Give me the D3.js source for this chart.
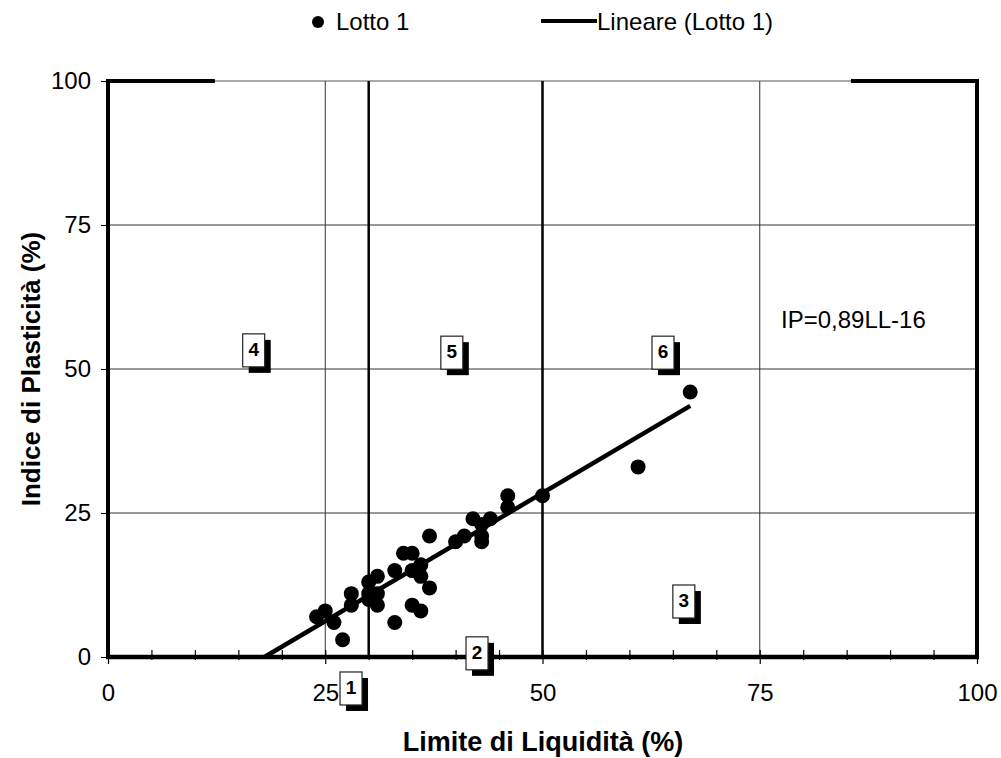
<!DOCTYPE html>
<html>
<head>
<meta charset="utf-8">
<script src="https://cdn.jsdelivr.net/npm/d3@7"></script>
<style>
  body { margin: 0; background: #fff; }
  svg { display: block; font-family: "Liberation Sans", Arial, sans-serif; }
</style>
</head>
<body>
<div id="chart"></div>
<script>
// punti Lotto 1 (LL, IP)
const LL = [24, 25, 26, 27, 28, 28, 30, 30, 30, 31, 31, 31, 33, 33, 34, 35, 35, 35, 36, 36, 36, 37, 37, 40, 41, 42, 43, 43, 43, 44, 46, 46, 50, 61, 67];
const IP = [7, 8, 6, 3, 9, 11, 13, 11, 10, 14, 11, 9, 15, 6, 18, 18, 15, 9, 16, 14, 8, 21, 12, 20, 21, 24, 23, 21, 20, 24, 28, 26, 28, 33, 46];

// retta di regressione
const trendLL = [18, 67];
const trendIP = [0, 43.6];

const xTicks = [0, 25, 50, 75, 100];
const yTicks = [0, 25, 50, 75, 100];
const gridX = [25, 75];
const gridY = [25, 50, 75];
const limitX = [30, 50];
const topBarStart = [0, 85.5];
const topBarEnd = [12.3, 100];

// riquadri numerati (angolo in alto a sinistra)
const zoneText = ['1', '2', '3', '4', '5', '6'];
const zoneLL = [26.7, 41.2, 65.0, 15.5, 38.3, 62.6];
const zoneIP = [-2.6, 3.5, 12.5, 56.1, 55.7, 55.7];

const W = 1001, H = 758;
const svg = d3.select('#chart').append('svg')
    .attr('width', W)
    .attr('height', H);

const x = d3.scaleLinear().domain([0, 100]).range([108, 977]);
const y = d3.scaleLinear().domain([0, 100]).range([657, 81]);

// griglia
svg.append('g').selectAll('line')
    .data(gridY)
    .enter().append('line')
    .attr('x1', x(0)).attr('x2', x(100))
    .attr('y1', d => y(d)).attr('y2', d => y(d))
    .attr('stroke', '#333').attr('stroke-width', 1);

svg.append('g').selectAll('line')
    .data(gridX)
    .enter().append('line')
    .attr('x1', d => x(d)).attr('x2', d => x(d))
    .attr('y1', y(0)).attr('y2', y(100))
    .attr('stroke', '#333').attr('stroke-width', 1);

// bordo superiore sottile
svg.append('line')
    .attr('x1', x(0)).attr('x2', x(100))
    .attr('y1', y(100)).attr('y2', y(100))
    .attr('stroke', '#555').attr('stroke-width', 1);

// limiti verticali
svg.append('g').selectAll('line')
    .data(limitX)
    .enter().append('line')
    .attr('x1', d => x(d)).attr('x2', d => x(d))
    .attr('y1', y(0)).attr('y2', y(100))
    .attr('stroke', '#000').attr('stroke-width', 2.5);

// tratti spessi in alto
svg.append('g').selectAll('line')
    .data(topBarStart)
    .enter().append('line')
    .attr('x1', d => x(d)).attr('x2', (d, i) => x(topBarEnd[i]))
    .attr('y1', y(100)).attr('y2', y(100))
    .attr('stroke', '#000').attr('stroke-width', 4);

// bordi sinistro e destro
svg.append('g').selectAll('line')
    .data([0, 100])
    .enter().append('line')
    .attr('x1', d => x(d)).attr('x2', d => x(d))
    .attr('y1', y(0)).attr('y2', y(100) - 2)
    .attr('stroke', '#000').attr('stroke-width', 4);

// asse y
const yAxis = svg.append('g')
    .attr('transform', `translate(${x(0) - 2},0)`)
    .call(d3.axisLeft(y).tickValues(yTicks).tickSize(5).tickPadding(10));
yAxis.select('.domain').remove();
yAxis.selectAll('text').attr('font-size', 24).attr('fill', '#000')
    .style('font-family', '"Liberation Sans", Arial, sans-serif');

// asse x
const xAxis = svg.append('g')
    .attr('transform', `translate(0,${y(0)})`)
    .call(d3.axisBottom(x).tickValues(d3.range(0, 101, 5)).tickSize(4).tickPadding(23)
        .tickFormat(d => xTicks.includes(d) ? d : ''));
xAxis.select('.domain').remove();
xAxis.selectAll('.tick line')
    .attr('y1', -7)
    .attr('y2', d => xTicks.includes(d) ? 7 : 3)
    .attr('stroke-width', 1.2);
xAxis.selectAll('text').attr('font-size', 24).attr('fill', '#000')
    .style('font-family', '"Liberation Sans", Arial, sans-serif');

svg.append('line')
    .attr('x1', x(0) - 2).attr('x2', x(100) + 2)
    .attr('y1', y(0)).attr('y2', y(0))
    .attr('stroke', '#000').attr('stroke-width', 4.5);

// retta di tendenza
svg.append('line')
    .attr('x1', x(trendLL[0])).attr('y1', y(trendIP[0]))
    .attr('x2', x(trendLL[1])).attr('y2', y(trendIP[1]))
    .attr('stroke', '#000').attr('stroke-width', 4.5);

// punti
svg.append('g').selectAll('circle')
    .data(LL)
    .enter().append('circle')
    .attr('cx', d => x(d))
    .attr('cy', (d, i) => y(IP[i]))
    .attr('r', 7.5)
    .attr('fill', '#000');

// equazione
svg.append('text')
    .attr('x', 781).attr('y', 328)
    .attr('font-size', 24)
    .text('IP=0,89LL-16');

// riquadri numerati
const boxes = svg.append('g').selectAll('g')
    .data(zoneText)
    .enter().append('g')
    .attr('transform', (d, i) => `translate(${x(zoneLL[i])},${y(zoneIP[i])})`);
boxes.append('rect')
    .attr('x', 6).attr('y', 6)
    .attr('width', 22).attr('height', 33)
    .attr('fill', '#000');
boxes.append('rect')
    .attr('x', 0).attr('y', 0)
    .attr('width', 22).attr('height', 33)
    .attr('fill', '#fff')
    .attr('stroke', '#222').attr('stroke-width', 1.2);
boxes.append('text')
    .attr('x', 11).attr('y', 22)
    .attr('text-anchor', 'middle')
    .attr('font-size', 19)
    .attr('font-weight', 'bold')
    .text(d => d);

// titoli assi
svg.append('text')
    .attr('x', 543).attr('y', 751)
    .attr('text-anchor', 'middle')
    .attr('font-size', 27)
    .attr('font-weight', 'bold')
    .text('Limite di Liquidità (%)');

svg.append('text')
    .attr('transform', 'translate(40,369) rotate(-90)')
    .attr('text-anchor', 'middle')
    .attr('font-size', 26)
    .attr('font-weight', 'bold')
    .text('Indice di Plasticità (%)');

// legenda
svg.append('circle')
    .attr('cx', 318).attr('cy', 22).attr('r', 6)
    .attr('fill', '#000');
svg.append('text')
    .attr('x', 336).attr('y', 30)
    .attr('font-size', 24)
    .text('Lotto 1');
svg.append('line')
    .attr('x1', 541).attr('x2', 597)
    .attr('y1', 21).attr('y2', 21)
    .attr('stroke', '#000').attr('stroke-width', 4);
svg.append('text')
    .attr('x', 597).attr('y', 30)
    .attr('font-size', 24)
    .text('Lineare (Lotto 1)');
</script>
</body>
</html>
